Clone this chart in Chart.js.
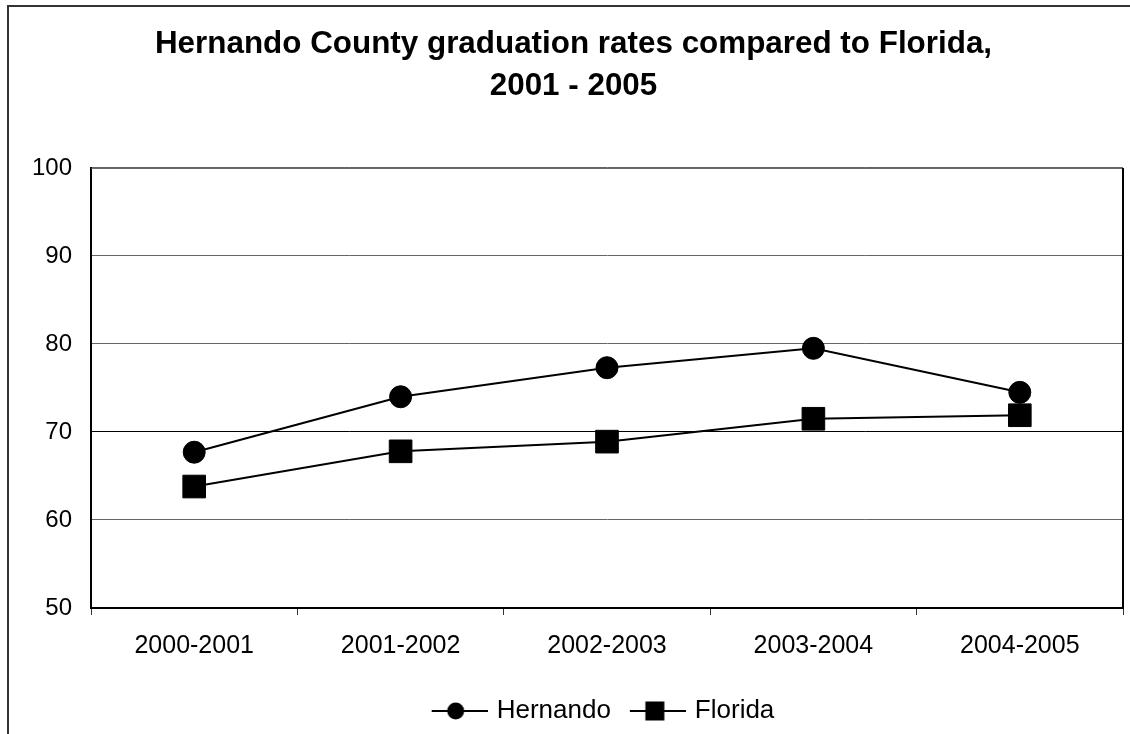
<!DOCTYPE html>
<html>
<head>
<meta charset="utf-8">
<script src="https://cdn.jsdelivr.net/npm/chart.js@4.4.0/dist/chart.umd.min.js"></script>
<style>
  html, body { margin: 0; padding: 0; background: #fff; }
  #wrap { width: 1130px; height: 734px; position: relative; }
</style>
</head>
<body>
<div id="wrap"><canvas id="c" width="1130" height="734"></canvas></div>
<script>
const categories = ['2000-2001', '2001-2002', '2002-2003', '2003-2004', '2004-2005'];
const hernando = [67.7, 74.0, 77.3, 79.5, 74.5];
const florida = [63.8, 67.8, 68.9, 71.5, 71.9];
const titleLines = ['Hernando County graduation rates compared to Florida,', '2001 - 2005'];
const yMin = 50, yMax = 100, yStep = 10;

const FONT = "'Liberation Sans', Arial, sans-serif";

function legendImage(kind) {
  const c = document.createElement('canvas');
  c.width = 69; c.height = 26;
  const g = c.getContext('2d');
  g.strokeStyle = '#000'; g.lineWidth = 2;
  g.beginPath(); g.moveTo(13, 13); g.lineTo(69, 13); g.stroke();
  g.fillStyle = '#000';
  if (kind === 'circle') {
    g.beginPath(); g.arc(13 + 24, 13, 8.5, 0, Math.PI * 2); g.fill();
  } else {
    g.fillRect(13 + 25 - 9.5, 13 - 9.5, 19, 19);
  }
  return c;
}
const legendImgs = [legendImage('circle'), legendImage('rect')];

const framePlugin = {
  id: 'frame',
  beforeDraw(chart) {
    const ctx = chart.ctx;
    ctx.save();
    ctx.fillStyle = '#fff';
    ctx.fillRect(0, 0, chart.width, chart.height);
    ctx.strokeStyle = '#333';
    ctx.lineWidth = 2;
    ctx.beginPath();
    ctx.moveTo(8, chart.height + 5);
    ctx.lineTo(8, 6);
    ctx.lineTo(chart.width + 5, 6);
    ctx.stroke();
    ctx.restore();
  },
  beforeDatasetsDraw(chart) {
    const a = chart.chartArea, ctx = chart.ctx;
    ctx.save();
    ctx.strokeStyle = '#555'; ctx.lineWidth = 1;
    ctx.beginPath(); ctx.moveTo(a.left, a.top + 0.5); ctx.lineTo(a.right, a.top + 0.5); ctx.stroke();
    ctx.strokeStyle = '#000'; ctx.lineWidth = 2;
    ctx.beginPath(); ctx.moveTo(a.right, a.top); ctx.lineTo(a.right, a.bottom); ctx.stroke();
    ctx.restore();
  },
  afterLayout(chart) {
    if (chart.legend) { chart.legend.left += 25; chart.legend.right += 25; }
  }
};

new Chart(document.getElementById('c'), {
  type: 'line',
  data: {
    labels: categories,
    datasets: [
      { label: 'Hernando', data: hernando, borderColor: '#000', backgroundColor: '#000', borderWidth: 2,
        pointStyle: 'circle', pointRadius: 11, pointBorderWidth: 1, pointBackgroundColor: '#000', pointBorderColor: '#000', tension: 0 },
      { label: 'Florida', data: florida, borderColor: '#000', backgroundColor: '#000', borderWidth: 2,
        pointStyle: 'rect', pointRadius: 16, pointBorderWidth: 1, pointBackgroundColor: '#000', pointBorderColor: '#000', tension: 0 }
    ]
  },
  options: {
    responsive: false,
    animation: false,
    devicePixelRatio: 1,
    layout: { autoPadding: false, padding: { left: 24, right: 7, top: 0, bottom: 0 } },
    plugins: {
      tooltip: { enabled: false },
      title: {
        display: true,
        text: titleLines,
        color: '#000',
        font: { family: FONT, size: 31.4, weight: 'bold', lineHeight: 1.32 },
        padding: { top: 24, bottom: 61 }
      },
      legend: {
        position: 'bottom',
        labels: {
          usePointStyle: true,
          pointStyleWidth: 61,
          padding: 10,
          color: '#000',
          font: { family: FONT, size: 26 },
          generateLabels(chart) {
            return chart.data.datasets.map((ds, i) => ({
              text: ds.label, pointStyle: legendImgs[i], datasetIndex: i,
              fillStyle: '#000', strokeStyle: '#000', lineWidth: 0, hidden: false
            }));
          }
        }
      }
    },
    scales: {
      x: {
        type: 'category',
        offset: true,
        grid: { offset: true, drawOnChartArea: false, drawTicks: true, tickLength: 7, color: '#333', lineWidth: 1 },
        border: { display: true, color: '#000', width: 2 },
        ticks: { color: '#000', font: { family: FONT, size: 25 }, padding: 16, maxRotation: 0, autoSkip: false },
        afterFit(scale) { scale.height = 80; scale.paddingLeft = 0; scale.paddingRight = 0; }
      },
      y: {
        min: yMin, max: yMax,
        grid: {
          drawTicks: false,
          color: (c) => (c.tick && c.tick.value === 70 ? '#000' : '#666'),
          lineWidth: 1
        },
        border: { display: true, color: '#000', width: 2 },
        ticks: { stepSize: yStep, color: '#000', font: { family: FONT, size: 24 }, padding: 19 },
        afterFit(scale) { scale.width = 67; }
      }
    }
  },
  plugins: [framePlugin]
});
</script>
</body>
</html>
